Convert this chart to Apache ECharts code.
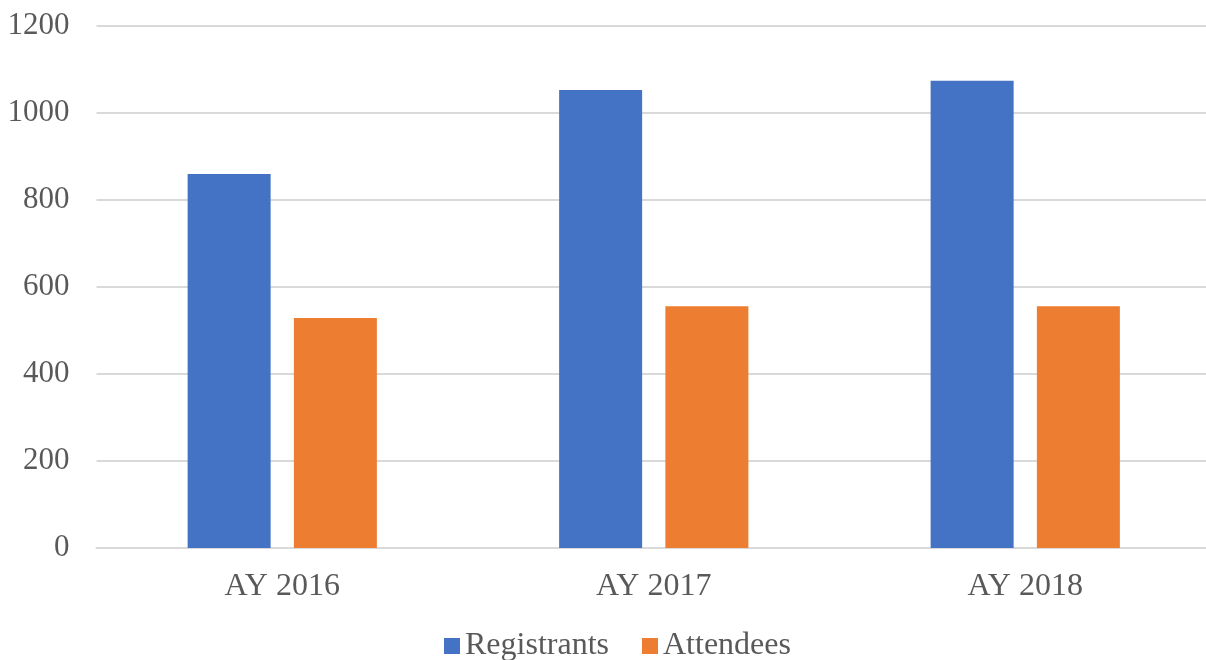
<!DOCTYPE html>
<html>
<head>
<meta charset="utf-8">
<script src="https://cdn.jsdelivr.net/npm/echarts@6/dist/echarts.min.js"></script>
<style>
html,body{margin:0;padding:0;background:#fff;}
#chart{width:1206px;height:660px;}
</style>
</head>
<body>
<div id="chart"></div>
<script>
const categories = ['AY 2016', 'AY 2017', 'AY 2018'];
const registrants = [860, 1053, 1074];
const attendees = [529, 556, 556];
const yTicks = [0, 200, 400, 600, 800, 1000, 1200];

const chart = echarts.init(document.getElementById('chart'));
const font = '"Liberation Serif", "Times New Roman", serif';

chart.setOption({
    animation: false,
    textStyle: { fontFamily: font },
    grid: {
        left: 96.5, width: 1114.5, top: 26, bottom: 112,
        containLabel: false, outerBoundsMode: 'none'
    },
    legend: {
        bottom: -7,
        left: 439,
        itemWidth: 16,
        itemHeight: 16,
        itemGap: 33,
        icon: 'rect',
        textStyle: { fontFamily: font, fontSize: 32, color: '#595959' },
        data: ['Registrants', 'Attendees']
    },
    xAxis: {
        type: 'category',
        data: categories,
        axisLine: { lineStyle: { color: '#D9D9D9', width: 2 } },
        axisTick: { show: false },
        axisLabel: { fontSize: 32, color: '#595959', margin: 23, fontFamily: font }
    },
    yAxis: {
        type: 'value',
        min: yTicks[0],
        max: yTicks[yTicks.length - 1],
        interval: 200,
        axisLine: { show: false },
        axisTick: { show: false },
        splitLine: { lineStyle: { color: '#D9D9D9', width: 2 } },
        axisLabel: {
            fontSize: 31, color: '#595959', margin: 27, fontFamily: font,
            formatter: function (v) { return String(v); }
        }
    },
    series: [
        {
            name: 'Registrants',
            type: 'bar',
            data: registrants,
            barWidth: 83,
            barGap: '28%',
            itemStyle: { color: '#4472C4' }
        },
        {
            name: 'Attendees',
            type: 'bar',
            data: attendees,
            barWidth: 83,
            itemStyle: { color: '#ED7D31' }
        }
    ]
});
</script>
</body>
</html>
